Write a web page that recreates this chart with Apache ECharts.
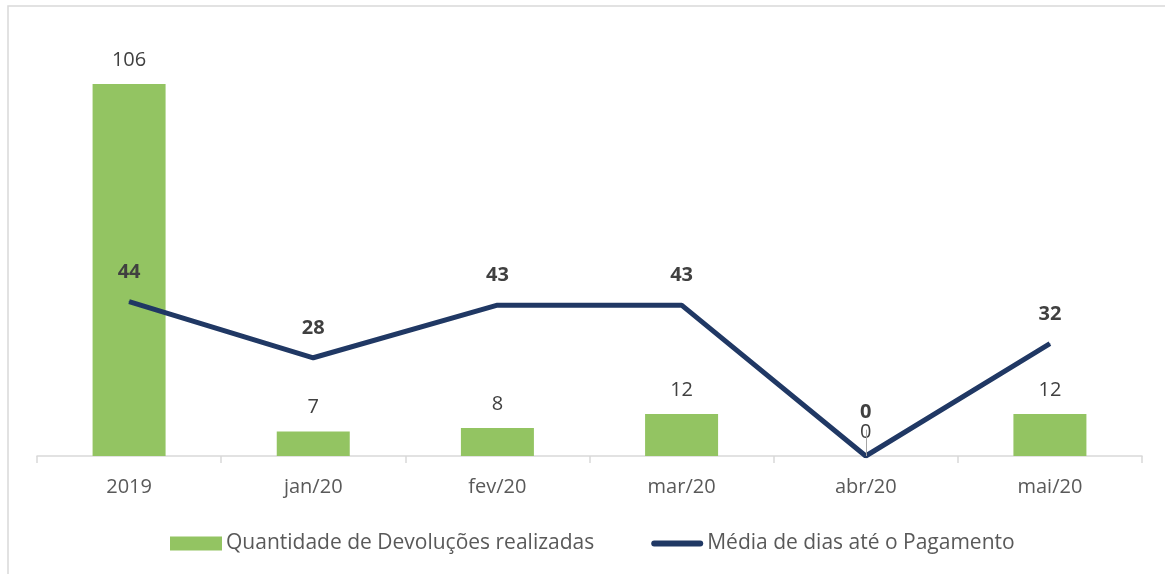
<!DOCTYPE html>
<html>
<head>
<meta charset="utf-8">
<script src="https://cdn.jsdelivr.net/npm/echarts@6/dist/echarts.min.js"></script>
<style>html,body{margin:0;padding:0;background:#fff;}#c{width:1165px;height:574px;}</style>
</head>
<body>
<div id="c"></div>
<script>
const categories = ['2019', 'jan/20', 'fev/20', 'mar/20', 'abr/20', 'mai/20'];
const devolucoes = [106, 7, 8, 12, 0, 12];
const mediaDias = [44, 28, 43, 43, 0, 32];
const seriesNames = ['Quantidade de Devoluções realizadas', 'Média de dias até o Pagamento'];

const FONT = '"Open Sans", sans-serif';
const chart = echarts.init(document.getElementById('c'));
chart.setOption({
  animation: false,
  textStyle: { fontFamily: FONT },
  graphic: [{
    type: 'rect', shape: { x: 8, y: 6, width: 1200, height: 620 },
    style: { fill: 'none', stroke: '#d9d9d9', lineWidth: 1.5 }, silent: true
  }],
  grid: { left: 37, right: 23, top: 35, bottom: 118 },
  legend: {
    left: 165, top: 528, itemWidth: 52, itemHeight: 14, itemGap: 57,
    textStyle: { fontSize: 21, color: '#595959', fontFamily: FONT, padding: [0, 0, 0, -1] },
    data: [
      { name: seriesNames[0], icon: 'rect' },
      { name: seriesNames[1], icon: 'path://M3,0L49,0A3,3,0,0,1,49,6L3,6A3,3,0,0,1,3,0Z' }
    ]
  },
  xAxis: {
    type: 'category', data: categories,
    axisLine: { lineStyle: { color: '#d9d9d9', width: 1.5 } },
    axisTick: { show: true, length: 7, lineStyle: { color: '#d9d9d9', width: 1.5 } },
    axisLabel: { color: '#595959', fontSize: 20, margin: 21, fontFamily: FONT }
  },
  yAxis: [
    { type: 'value', min: 0, max: 120, show: false, splitLine: { show: false } },
    { type: 'value', min: 0, max: 120, show: false, splitLine: { show: false } }
  ],
  series: [
    {
      name: seriesNames[0], type: 'bar', data: devolucoes, barWidth: 73,
      itemStyle: { color: '#93c462' },
      label: { show: true, position: 'top', distance: 14, color: '#404040', fontSize: 20, fontFamily: FONT },
      markLine: {
        silent: true, symbol: 'none', label: { show: false },
        lineStyle: { color: '#a6a6a6', width: 1, type: 'solid' },
        data: [[{ coord: ['abr/20', 0] }, { coord: ['abr/20', 7.5] }]]
      }
    },
    {
      name: seriesNames[1], type: 'line', yAxisIndex: 1,
      data: mediaDias.map((v, i) => i === 4 ? { value: v, label: { distance: 33 } } : v),
      symbol: 'circle', symbolSize: 1, showSymbol: true,
      lineStyle: { color: '#203864', width: 5 },
      itemStyle: { color: '#203864' },
      label: { show: true, position: 'top', distance: 19, color: '#404040', fontSize: 20, fontWeight: 'bold', fontFamily: FONT }
    }
  ]
});
</script>
</body>
</html>
